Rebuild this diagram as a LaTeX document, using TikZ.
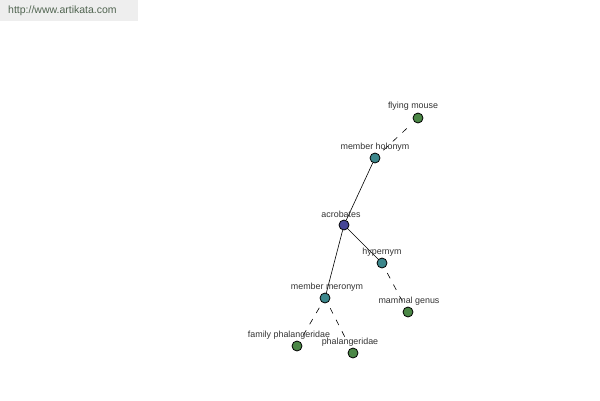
\documentclass[tikz,border=0pt]{standalone}
\usepackage{fontspec}
\setmainfont{Liberation Sans}
\begin{document}
\begin{tikzpicture}[x=1pt,y=-1pt,
  dot/.style={circle,draw=black,line width=0.8pt,inner sep=0pt,minimum size=10pt},
  root/.style={dot,fill={rgb,255:red,70;green,70;blue,150}},
  mid/.style={dot,fill={rgb,255:red,60;green,135;blue,140}},
  leaf/.style={dot,fill={rgb,255:red,75;green,135;blue,70}},
  lbl/.style={font=\fontsize{8.9}{9}\selectfont,text=black!80,inner sep=0pt},
  solidedge/.style={draw=black,line width=0.6pt},
  dashededge/.style={draw=black,line width=0.6pt,dash pattern=on 6pt off 7pt,shorten <=6pt,shorten >=6pt}]
\useasboundingbox (0,0) rectangle (600,400);
\fill[fill={rgb,255:red,238;green,238;blue,238}] (0,0) rectangle (138,21);
\node[anchor=west,inner sep=0pt,font=\fontsize{10.5}{12}\selectfont,text={rgb,255:red,80;green,100;blue,80}] (url) at (8,11) {http://www.artikata.com};
% nodes
\node[root] (acro) at (344,225) {};
\node[mid] (holo) at (375,158) {};
\node[mid] (hyper) at (382,263) {};
\node[mid] (mero) at (325,298) {};
\node[leaf] (fly) at (418,118) {};
\node[leaf] (genus) at (408,312) {};
\node[leaf] (family) at (297,346) {};
\node[leaf] (phal) at (353,353) {};
% edges
\draw[solidedge] (acro) -- (holo);
\draw[solidedge] (acro) -- (hyper);
\draw[solidedge] (acro) -- (mero);
\draw[dashededge] (holo) -- (fly);
\draw[dashededge] (hyper) -- (genus);
\draw[dashededge] (mero) -- (family);
\draw[dashededge] (mero) -- (phal);
% labels
\node[lbl] (lfly) at (413,106.5) {flying mouse};
\node[lbl] (lholo) at (375,147.5) {member holonym};
\node[lbl] (lacro) at (341,214.5) {acrobates};
\node[lbl] (lhyper) at (382,252.5) {hypernym};
\node[lbl] (lgenus) at (409,301.5) {mammal genus};
\node[lbl] (lmero) at (327,287.5) {member meronym};
\node[lbl] (lfamily) at (289,335.5) {family phalangeridae};
\node[lbl] (lphal) at (350,342.5) {phalangeridae};
\end{tikzpicture}
\end{document}
